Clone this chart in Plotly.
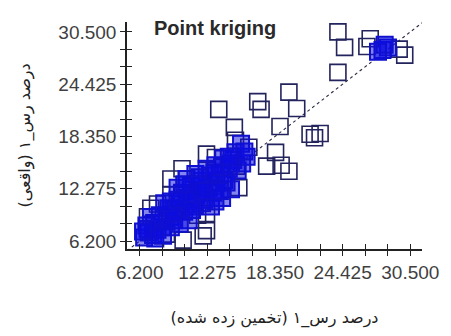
import plotly.graph_objects as go

# Cross-validation of clay content: estimated (x) vs. measured (y)
# Points lying apart from the main cloud
outer_est = [24.0, 24.6, 24.0, 26.9, 26.6, 29.5, 30.0, 19.6, 20.3, 16.8, 17.1, 18.8,
             21.5, 21.9, 22.4, 18.4, 17.6, 18.9, 19.6, 14.7, 13.3, 14.8, 16.0, 10.0,
             9.0, 12.2, 13.0, 10.1, 11.9, 12.2, 8.6, 15.1, 14.9, 6.9, 7.8, 9.0, 7.2,
             11.4, 12.2]
outer_obs = [30.5, 28.7, 25.8, 29.7, 28.8, 28.5, 27.8, 23.5, 21.6, 22.4, 21.5, 19.5,
             18.6, 18.2, 18.7, 16.5, 14.9, 15.0, 14.3, 19.4, 21.5, 17.9, 17.1, 14.6,
             13.4, 16.3, 15.9, 6.3, 6.8, 7.4, 7.0, 12.4, 14.9, 9.0, 10.5, 11.6, 10.0,
             9.2, 9.4]

# Points inside the dense cloud
dense_est = [28.0, 28.5, 27.6, 28.2,
             6.6, 7.0, 7.4, 7.8, 6.8, 7.5, 8.2, 8.6, 7.2, 8.0, 8.9, 6.9, 7.6, 8.3, 9.0,
             9.3, 6.5,
             9.4, 9.8, 10.2, 10.6, 11.0, 11.3, 10.0, 9.6, 10.8, 11.6, 12.0, 12.4, 11.8,
             12.8, 13.1, 12.5, 13.4, 13.8, 14.2, 13.0, 14.6, 13.7, 15.0, 14.8, 15.4,
             15.8, 15.3, 11.2, 10.4, 12.2, 9.0, 10.6, 12.6, 13.6, 14.4, 9.8, 8.8, 10.4,
             11.8, 13.0, 14.0,
             10.8, 11.6, 12.9, 13.4, 9.2, 8.4, 10.2, 11.4, 12.0, 13.6, 14.4, 15.6,
             14.2, 9.6, 10.9]
dense_obs = [28.4, 28.7, 28.2, 29.0,
             6.6, 7.2, 6.9, 7.5, 8.0, 8.3, 7.8, 8.5, 9.0, 9.2, 9.0, 7.6, 6.5, 6.8, 7.8,
             8.6, 7.3,
             9.8, 10.5, 9.6, 10.8, 10.2, 11.5, 11.8, 12.4, 12.6, 12.0, 11.0, 12.4, 13.2,
             11.8, 12.9, 13.8, 14.0, 13.3, 14.6, 15.0, 15.6, 15.8, 14.4, 16.5, 15.2,
             16.0, 17.5, 14.0, 13.4, 14.6, 10.8, 8.6, 10.2, 11.2, 12.2, 8.2, 10.0, 11.2,
             10.6, 10.8, 13.0,
             11.6, 13.6, 14.2, 12.0, 9.4, 10.6, 12.8, 12.8, 12.0, 14.8, 15.2, 16.6,
             16.0, 11.0, 9.8]

# 1:1 reference line
one_to_one = [5.06, 31.6]

tick_vals = [6.2, 8.225, 10.25, 12.275, 14.3, 16.325, 18.35, 20.375, 22.4,
             24.425, 26.45, 28.475, 30.5]
tick_text = ["6.200", "", "", "12.275", "", "", "18.350", "", "",
             "24.425", "", "", "30.500"]

x_range = [5.06, 31.55]
y_range = [5.27, 31.65]

fig = go.Figure()

fig.add_trace(go.Scatter(
    x=one_to_one, y=one_to_one, mode="lines",
    line=dict(color="#2a2a45", width=1.1, dash="dot"),
    hoverinfo="skip", showlegend=False))

fig.add_trace(go.Scatter(
    x=outer_est, y=outer_obs, mode="markers",
    marker=dict(symbol="square-open", size=16, color="#23235e",
                line=dict(width=1.6)),
    showlegend=False))

# Overlapping squares in the dense cloud build up into a solid blue mass
fig.add_trace(go.Scatter(
    x=dense_est, y=dense_obs, mode="markers",
    marker=dict(symbol="square", size=16, color="rgba(12,12,225,0.5)",
                line=dict(width=2, color="#1010d0")),
    showlegend=False))

# Invisible trace pinned to the secondary axes so the inward ticks render
fig.add_trace(go.Scatter(x=[None], y=[None], xaxis="x2", yaxis="y2",
                         showlegend=False, hoverinfo="skip"))

tick_font = dict(family="Liberation Sans, Arial", size=19, color="#3f3f3f")
title_font = dict(family="DejaVu Sans", size=16, color="#222")

fig.update_layout(
    width=451, height=336,
    margin=dict(l=127, r=21, t=22, b=86),
    paper_bgcolor="white", plot_bgcolor="white",
    xaxis=dict(range=x_range, tickvals=tick_vals, ticktext=tick_text,
               ticks="outside", ticklen=5, tickwidth=1.2, tickcolor="#222",
               showline=True, linecolor="#222", linewidth=1.5,
               showgrid=False, zeroline=False, tickfont=tick_font,
               title=dict(text="درصد رس_۱ (تخمین زده شده)", font=title_font,
                          standoff=30)),
    yaxis=dict(range=y_range, tickvals=tick_vals, ticktext=tick_text,
               ticks="outside", ticklen=5, tickwidth=1.2, tickcolor="#222",
               showline=True, linecolor="#222", linewidth=1.5,
               showgrid=False, zeroline=False, tickfont=tick_font,
               title=dict(text="درصد رس_۱ (واقعی)", font=title_font,
                          standoff=24)),
    xaxis2=dict(range=x_range, overlaying="x", tickvals=tick_vals,
                ticks="inside", ticklen=5, tickwidth=1.2, tickcolor="#222",
                showticklabels=False, showline=False, showgrid=False,
                zeroline=False, side="bottom", anchor="y"),
    yaxis2=dict(range=y_range, overlaying="y", tickvals=tick_vals,
                ticks="inside", ticklen=5, tickwidth=1.2, tickcolor="#222",
                showticklabels=False, showline=False, showgrid=False,
                zeroline=False, side="left", anchor="x"),
    annotations=[dict(text="<b>Point kriging</b>", xref="paper", yref="paper",
                      x=0.085, y=0.974, xanchor="left", yanchor="middle",
                      showarrow=False,
                      font=dict(family="Liberation Sans, Arial", size=20,
                                color="#2a2a2a"))],
)

fig.write_html("out.html")
